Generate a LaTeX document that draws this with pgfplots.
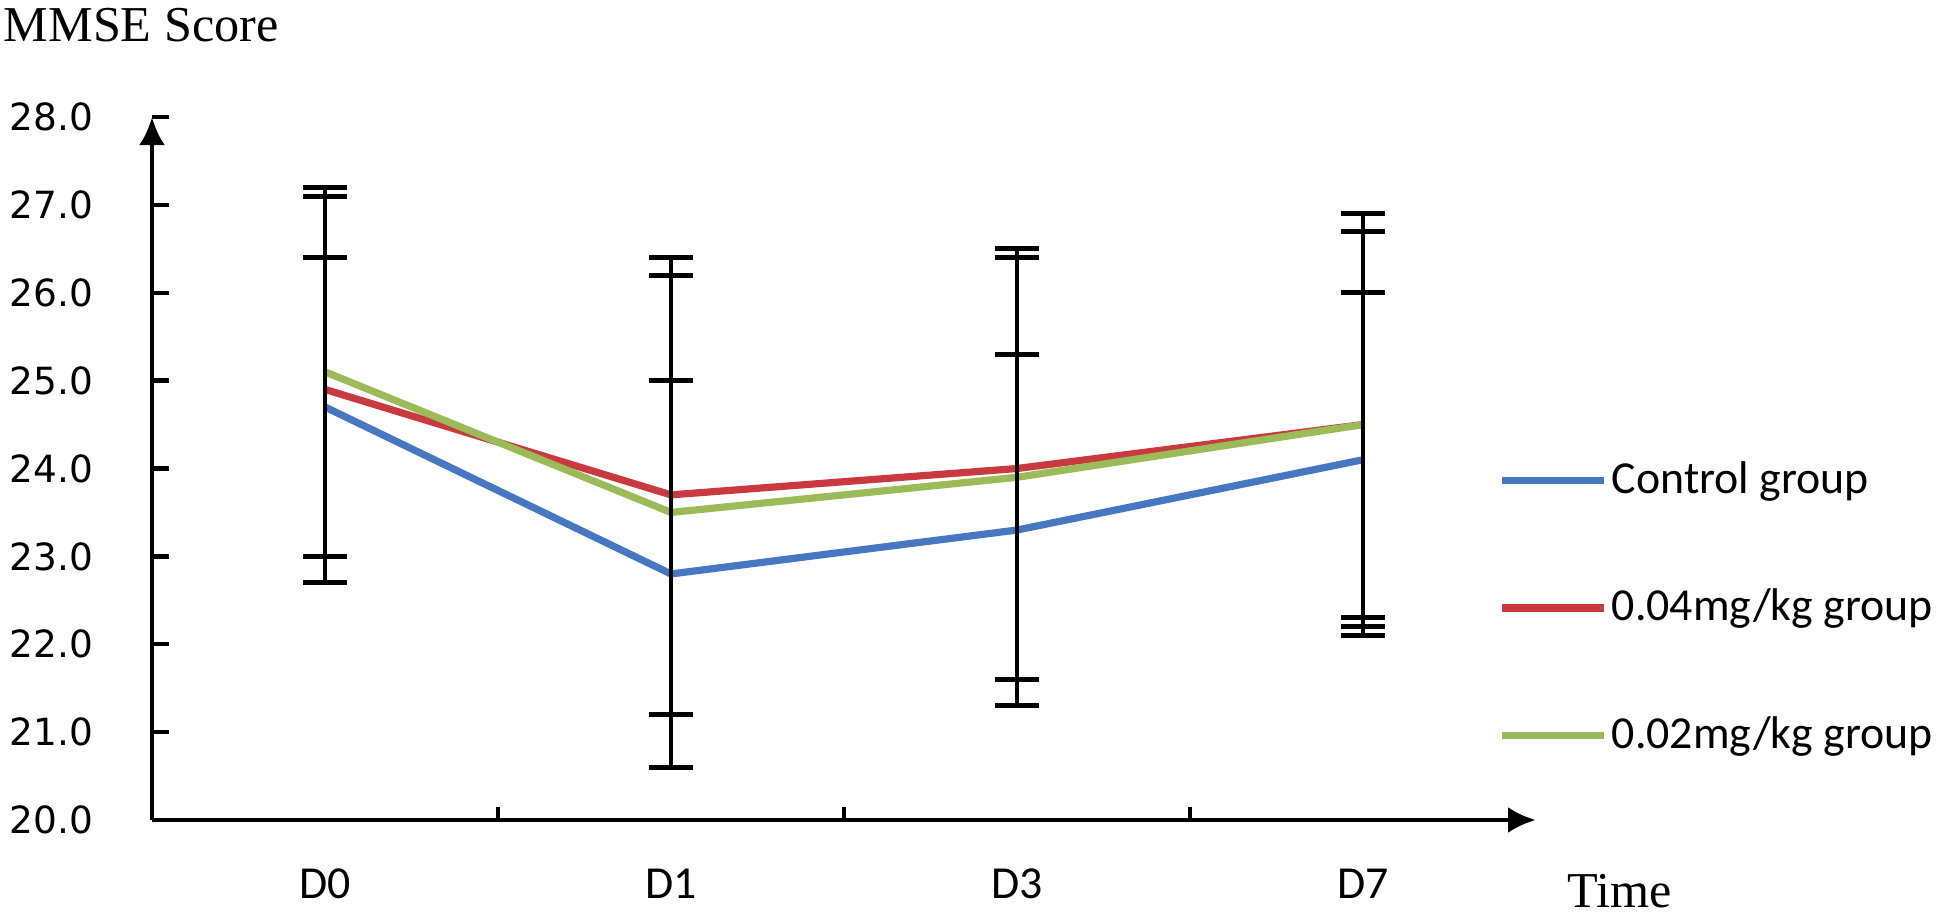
\documentclass[border=0pt]{standalone}
\usepackage{pgfplots}
\pgfplotsset{compat=1.18}
\usepackage{pgfplotstable}
\usepackage{fontspec}
\setmainfont{Liberation Serif}
\newfontfamily\calib{Carlito}
\newfontfamily\tickf{DejaVu Sans}
\usetikzlibrary{arrows.meta}
\definecolor{cblue}{HTML}{4677C0}
\definecolor{cred}{HTML}{C93A40}
\definecolor{cgreen}{HTML}{9BBB59}

\pgfplotstableread{
x y e
0 24.7 1.7
1 22.8 2.2
2 23.3 2.0
3 24.1 1.9
}\control
\pgfplotstableread{
x y e
0 24.9 2.2
1 23.7 2.5
2 24.0 2.4
3 24.5 2.4
}\highdose
\pgfplotstableread{
x y e
0 25.1 2.1
1 23.5 2.9
2 23.9 2.6
3 24.5 2.2
}\lowdose

\begin{document}
\begin{tikzpicture}
\path[use as bounding box] (-38bp,-23.25bp) rectangle (448.5bp,205bp);
\begin{axis}[
  at={(0,0)}, anchor=south west,
  scale only axis, width=346bp, height=175.75bp,
  xmin=-0.5, xmax=3.5, ymin=20, ymax=28,
  axis x line=bottom, axis y line=left,
  axis line style={black, line width=1.2bp, -{Latex[length=7bp,width=6.5bp]}},
  xtick={0,1,2,3}, xticklabels={D0,D1,D3,D7},
  minor xtick={0.5,1.5,2.5},
  major x tick style={draw=none},
  ytick={20,21,...,28},
  tick align=inside,
  tick style={black, line width=1.1bp},
  major tick length=4.25bp, minor tick length=3.3bp,
  yticklabel style={font=\tickf\fontsize{9.4}{11}\selectfont, anchor=east, inner sep=0pt, xshift=-14.5bp,
    /pgf/number format/.cd, fixed, fixed zerofill, precision=1, assume math mode=true},
  xticklabel style={font=\calib\fontsize{11.5}{13}\selectfont, anchor=base, inner sep=0pt, yshift=-19.5bp},
  legend cell align=left,
  legend style={at={(axis description cs:0.9725,0.3016)}, anchor=west, draw=none, fill=none,
    inner sep=0pt, row sep=20.5bp, font=\calib\fontsize{11.5}{13}\selectfont,
    nodes={inner sep=1bp}},
  legend image code/.code={\draw[#1, line width=1.8bp] (0bp,0bp) -- (25.5bp,0bp);},
  every axis plot/.append style={line width=1.8bp},
]
\addplot[cblue, error bars/.cd, y dir=both, y explicit,
  error bar style={black, line width=1.2bp},
  error mark options={rotate=90, black, line width=1.2bp, mark size=5.5bp}]
  table[x=x, y=y, y error=e] {\control};
\addlegendentry{Control group}
\addplot[cred, error bars/.cd, y dir=both, y explicit,
  error bar style={black, line width=1.2bp},
  error mark options={rotate=90, black, line width=1.2bp, mark size=5.5bp}]
  table[x=x, y=y, y error=e] {\highdose};
\addlegendentry{0.04mg/kg group}
\addplot[cgreen, error bars/.cd, y dir=both, y explicit,
  error bar style={black, line width=1.2bp},
  error mark options={rotate=90, black, line width=1.2bp, mark size=5.5bp}]
  table[x=x, y=y, y error=e] {\lowdose};
\addlegendentry{0.02mg/kg group}
\end{axis}
\node[anchor=west, inner sep=0pt, font=\fontsize{12.6}{14}\selectfont] at (-37.25bp,198.75bp) {MMSE Score};
\node[anchor=base west, inner sep=0pt, font=\fontsize{12.6}{14}\selectfont] at (353.75bp,-21.75bp) {Time};
\end{tikzpicture}
\end{document}
